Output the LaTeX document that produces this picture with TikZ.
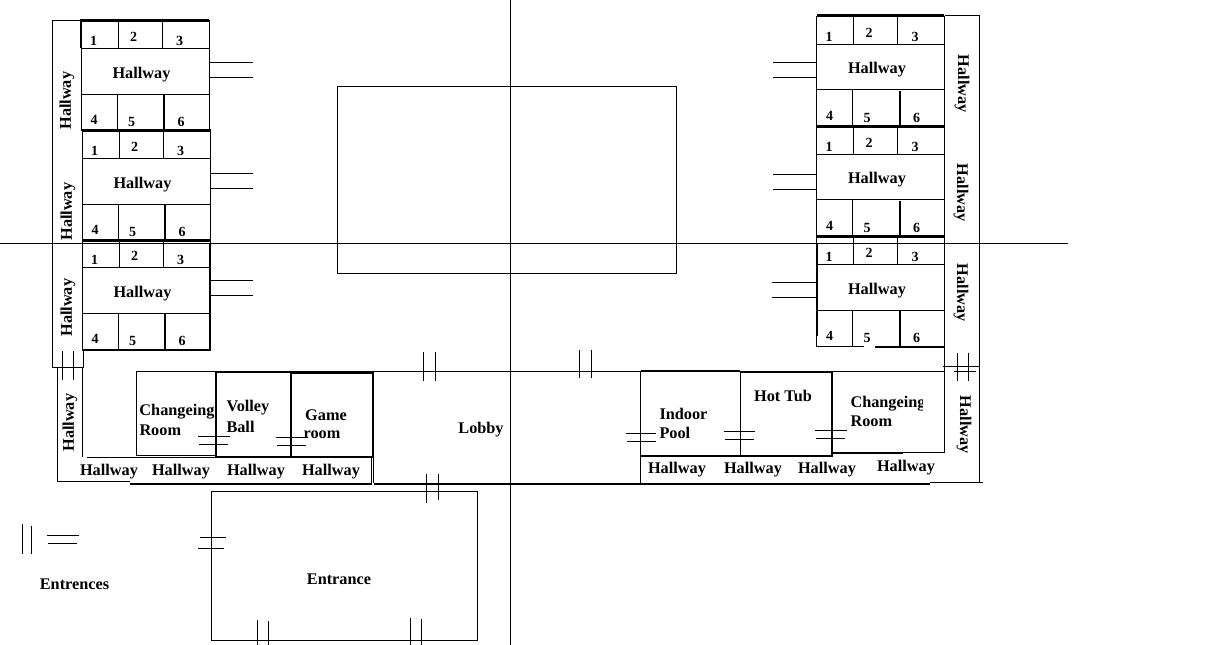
\documentclass[tikz,border=0pt]{standalone}
\usepackage{fontspec}
\setmainfont{Liberation Serif}
\begin{document}
\begin{tikzpicture}[x=0.75pt,y=-0.75pt,line width=0.75pt,shift={(0,0.6)},
    heavy/.style={line width=2.2pt},
    medium/.style={line width=1.5pt},
    lbl/.style={inner sep=0pt,yshift=-0.8pt,font=\fontsize{12.2}{13}\selectfont\bfseries},
    num/.style={inner sep=0pt,font=\fontsize{10.5}{11}\selectfont\bfseries}]
  % Configurable parameters
  \def\wide{128}
  \def\halltop{28}
  \def\hallbot{73.5}
  \def\deep{109.5}
  \useasboundingbox (0,-0.6) rectangle (1224,644.4);
  %
  % Centre lines
  \draw (510,-0.6) -- (510,645);
  \draw (0,243) -- (1068,243);
  %
  % Court
  \draw (337,86) rectangle (676,273);
  %
  % Wings
  \foreach \nm/\xl/\yt/\xs/\xd/\yd in {la/81/20/209/253/62,lb/82/130/210/253/173,lc/82/239/210/253/280,
      ra/816.5/15.5/816.5/773/62,rb/816.5/125.5/816.5/773/174,rc/816.5/236/816.5/772/282}{
    \draw (\xl,\yt) rectangle (\xl+\wide,\yt+\deep);
    \draw (\xl,\yt+\halltop) -- (\xl+\wide,\yt+\halltop);
    \draw (\xl,\yt+\hallbot) -- (\xl+\wide,\yt+\hallbot);
    \draw (\xl+37,\yt) -- (\xl+37,\yt+\halltop);
    \draw (\xl+81,\yt) -- (\xl+81,\yt+\halltop);
    \draw (\xl+36,\yt+\hallbot) -- (\xl+36,\yt+\deep);
    \draw[medium] (\xl+83,\yt+\hallbot+1) -- (\xl+83,\yt+\deep);
    \draw (\xs,\yd) -- (\xd,\yd);
    \draw (\xs,\yd+14.5) -- (\xd,\yd+14.5);
    \node[lbl] (hall\nm) at (\xl+60.5,\yt+52.5) {Hallway};
    \node[num] (\nm one) at (\xl+12.5,\yt+20.5) {1};
    \node[num] (\nm two) at (\xl+52.5,\yt+16.5) {2};
    \node[num] (\nm three) at (\xl+98.5,\yt+20.5) {3};
    \node[num] (\nm four) at (\xl+13,\yt+99.5) {4};
    \node[num] (\nm five) at (\xl+50.5,\yt+101.5) {5};
    \node[num] (\nm six) at (\xl+100,\yt+101.5) {6};
  }
  %
  % Heavy walls of the wings
  \draw[heavy] (81,47) -- (81,20) -- (209,20);
  \draw[heavy] (82,129.5) -- (211,129.5);
  \draw[heavy] (82,239.5) -- (211,239.5);
  \draw[medium] (210,243) -- (210,349) -- (82,349);
  \draw[heavy] (817,15) -- (944,15);
  \draw[heavy] (817,125.5) -- (944,125.5);
  \draw[heavy] (817,235.5) -- (944,235.5);
  \draw[medium] (816.5,243) -- (816.5,335);
  \draw[medium] (875,346) -- (944,346);
  \draw[white,line width=2pt] (864,346) -- (875,346);
  %
  % Side hallways
  \draw (81,20) -- (52,20) -- (52,366.5) -- (83.5,366.5) -- (83.5,349);
  \draw (57,366.5) -- (57,481) -- (130,481);
  \draw (82.5,366.5) -- (82.5,456);
  \draw (944.5,15) -- (979.5,15) -- (979.5,482);
  \draw (930,482) -- (983,482);
  \draw (944.5,346) -- (944.5,452);
  \draw (943,366) -- (979.5,366);
  %
  % Left rooms
  \draw (136.5,370.5) -- (640,370.5);
  \draw (136.5,370.5) rectangle (216,454.5);
  \draw[medium] (216,371.5) rectangle (291,456);
  \draw[medium] (291,372.5) rectangle (373,456);
  \draw (87,456.5) -- (372,456.5);
  \draw (371.5,456) -- (371.5,482);
  \draw (373.5,456) -- (373.5,482);
  \draw[medium] (130,483) -- (372,483);
  \draw[medium] (374,483) -- (930,483);
  %
  % Right rooms
  \draw[medium] (640.5,370) -- (740,370);
  \draw (640.5,370) -- (640.5,483);
  \draw (740,370) -- (740,455);
  \draw[medium] (740,371) -- (832,371) -- (832,455) -- (640.5,455);
  \draw (832,370.5) -- (944.5,370.5);
  \draw[medium] (832,452.5) -- (903,452.5);
  \draw (903,452) -- (944.5,452);
  %
  % Entrance
  \draw (211.5,490.5) rectangle (477.5,639.5);
  %
  % Doors
  \draw (62.5,350) -- (62.5,379);
  \draw (73.5,350) -- (73.5,379);
  \draw (198,436) -- (230,436);
  \draw (199,444) -- (228,444);
  \draw (276,437) -- (308,437);
  \draw (277,445) -- (306,445);
  \draw (423,351) -- (423,380);
  \draw (435,351) -- (435,380);
  \draw (579,349) -- (579,377);
  \draw (591,349) -- (591,377);
  \draw (626,433) -- (656,433);
  \draw (627,441) -- (656,441);
  \draw (724,431) -- (755,431);
  \draw (725,439) -- (754,439);
  \draw (815,430) -- (847,430);
  \draw (816,438) -- (845,438);
  \draw (957.5,352) -- (957.5,380);
  \draw (968.5,352) -- (968.5,380);
  \draw (954,370.5) -- (976,370.5);
  \draw (426,473) -- (426,502);
  \draw (438,473) -- (438,499);
  \draw (200,537) -- (226,537);
  \draw (198,548) -- (224,548);
  \draw (257.5,619) -- (257.5,645);
  \draw (268.5,620) -- (268.5,645);
  \draw (410.5,617) -- (410.5,645);
  \draw (421.5,618) -- (421.5,645);
  %
  % Key
  \draw (22.5,523) -- (22.5,553);
  \draw (31.5,525) -- (31.5,553);
  \draw (47,535) -- (79,535);
  \draw (48,543) -- (77,543);
  \node[lbl] (keytext) at (74.5,583) {Entrences};
  %
  % Hallway labels
  \node[lbl,rotate=90] (hallwa) at (67,99) {Hallway};
  \node[lbl,rotate=90] (hallwb) at (68,210) {Hallway};
  \node[lbl,rotate=90] (hallwc) at (68,306) {Hallway};
  \node[lbl,rotate=90] (hallwd) at (70,421) {Hallway};
  \node[lbl,rotate=-90] (hallea) at (962,82) {Hallway};
  \node[lbl,rotate=-90] (halleb) at (961,191) {Hallway};
  \node[lbl,rotate=-90] (hallec) at (961,291) {Hallway};
  \node[lbl,rotate=-90] (halled) at (964,423) {Hallway};
  \node[lbl] (hallsa) at (109,470) {Hallway};
  \node[lbl] (hallsb) at (181,470) {Hallway};
  \node[lbl] (hallsc) at (256,470) {Hallway};
  \node[lbl] (hallsd) at (331,470) {Hallway};
  \node[lbl] (hallse) at (677,468) {Hallway};
  \node[lbl] (hallsf) at (753,468) {Hallway};
  \node[lbl] (hallsg) at (827,468) {Hallway};
  \node[lbl] (hallsh) at (906,466) {Hallway};
  %
  % Room labels
  \node[lbl] (changel) at (177,410) {Changeing};
  \node[lbl,anchor=west] (rooml) at (139,429) {Room};
  \node[lbl,anchor=west] (volley) at (226,406) {Volley};
  \node[lbl,anchor=west] (ball) at (226,425) {Ball};
  \node[lbl] (game) at (326,414) {Game};
  \node[lbl] (groom) at (322,433) {room};
  \node[lbl] (lobby) at (481,428) {Lobby};
  \node[lbl,anchor=west] (indoor) at (659,412) {Indoor};
  \node[lbl,anchor=west] (pool) at (659,431) {Pool};
  \node[lbl] (hottub) at (783,394) {Hot Tub};
  \node[lbl,anchor=west] (changer) at (850,402) {Changeing};
  \node[lbl,anchor=west] (roomr) at (850,420) {Room};
  \node[lbl] (entrance) at (339,578) {Entrance};
  \fill[white] (923,394) rectangle (930,413);
\end{tikzpicture}
\end{document}
